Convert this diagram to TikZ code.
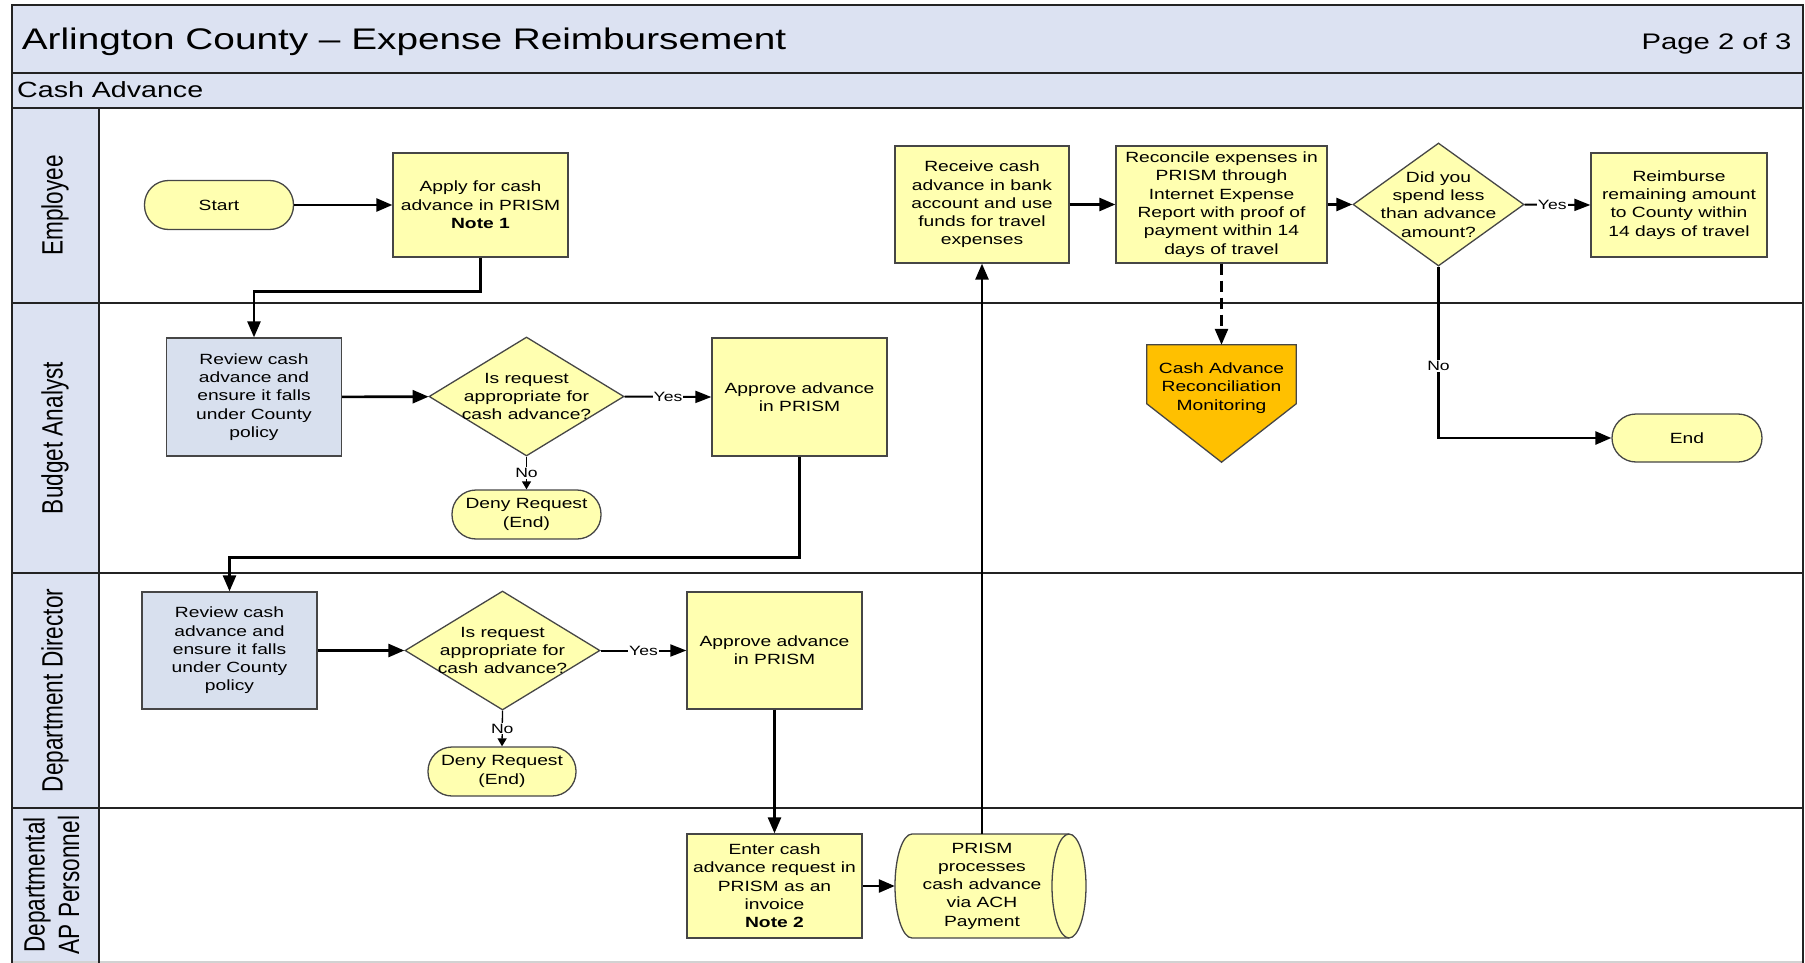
\documentclass[tikz,border=0pt]{standalone}
\usepackage{fontspec}
\setmainfont{Liberation Sans}[FakeStretch=1.3]
\newfontfamily\lanefont{Liberation Sans}
\usetikzlibrary{arrows.meta,shapes.geometric,calc}
\definecolor{hdr}{RGB}{220,226,242}
\definecolor{yel}{RGB}{255,255,176}
\definecolor{blu}{RGB}{216,224,238}
\definecolor{org}{RGB}{255,192,0}
\definecolor{frm}{RGB}{35,35,35}
\definecolor{bdr}{RGB}{70,70,70}
\newcommand{\bodyfs}{\fontsize{14.8pt}{18.3pt}\selectfont}
\begin{document}
\begin{tikzpicture}[x=1pt,y=-1pt,
  frame/.style={draw=frm, line width=2.2pt},
  box/.style={draw=bdr, line width=1.3pt, fill=yel, inner sep=0pt, align=center, font=\bodyfs},
  bbox/.style={box, fill=blu},
  stad/.style={draw=bdr, line width=1.3pt, fill=yel, rounded corners=24pt, inner sep=0pt, align=center, font=\bodyfs, minimum width=149pt, minimum height=49pt},
  dia/.style={diamond, draw=bdr, line width=1.3pt, fill=yel, inner sep=0pt},
  txt/.style={inner sep=0pt, align=center, font=\bodyfs},
  lanel/.style={rotate=90, inner sep=0pt, align=center, font=\lanefont\fontsize{22.6pt}{26.5pt}\selectfont},
  arr/.style={-{Triangle[length=16pt,width=13pt]}, line width=2.6pt},
  yarr/.style={-{Triangle[length=16pt,width=12pt]}, line width=2pt},
  sarr/.style={-{Triangle[length=8pt,width=9pt]}, line width=1.3pt},
  lbl/.style={fill=white, inner sep=1pt, font=\fontsize{13.5pt}{15pt}\selectfont}
]
\useasboundingbox (0,0) rectangle (1805,963);
% frame
\fill[hdr] (11.7,4.7) rectangle (1803,108);
\fill[hdr] (11.7,108) rectangle (99,963);
\draw[gray!35, line width=1.5pt] (11.7,962) -- (1803,962);
\draw[frame] (11.7,963) -- (11.7,4.7) -- (1803,4.7) -- (1803,963);
\draw[frame] (11.7,72.7) -- (1803,72.7);
\draw[frame] (11.7,108) -- (1803,108);
\draw[frame] (11.7,303) -- (1803,303);
\draw[frame] (11.7,573) -- (1803,573);
\draw[frame] (11.7,808) -- (1803,808);
\draw[frame] (99,108) -- (99,963);
% header texts
\node[anchor=base west, inner sep=0pt, font=\fontsize{29.8pt}{35pt}\selectfont] (title) at (21.7,49.5) {Arlington County -- Expense Reimbursement};
\node[anchor=base east, inner sep=0pt, font=\fontsize{22.5pt}{27pt}\selectfont] (page) at (1791.5,49.5) {Page 2 of 3};
\node[anchor=base west, inner sep=0pt, font=\fontsize{22pt}{26pt}\selectfont] (sub) at (17,97.3) {Cash Advance};
% lane labels
\node[lanel] (lemp) at (55,205.5) {\scalebox{1}[1.3]{Employee}};
\node[lanel] (lba) at (55,438) {\scalebox{1}[1.3]{Budget Analyst}};
\node[lanel] (ldd) at (55,690.5) {\scalebox{1}[1.3]{Department Director}};
\node[lanel] (lap) at (55,885) {\scalebox{1}[1.3]{\begin{tabular}{@{}c@{}}Departmental\\AP Personnel\end{tabular}}};
% Employee lane
\node[stad] (start) at (219,205) {Start};
\node[box, minimum width=175pt, minimum height=104pt] (apply) at (480.5,205) {Apply for cash\\advance in PRISM\\\textbf{Note 1}};
\node[box, minimum width=174pt, minimum height=117pt] (receive) at (982,204.5) {Receive cash\\advance in bank\\account and use\\funds for travel\\expenses};
\node[box, minimum width=211pt, minimum height=117pt] (recon) at (1221.5,204.5) {Reconcile expenses in\\PRISM through\\Internet Expense\\Report with proof of\\payment within 14\\days of travel};
\node[dia, minimum width=171pt, minimum height=123pt] (d2) at (1438.5,204.5) {};
\node[txt] (d2t) at (1438.5,204.5) {Did you\\spend less\\than advance\\amount?};
\node[box, minimum width=176pt, minimum height=104pt] (reimb) at (1679,205) {Reimburse\\remaining amount\\to County within\\14 days of travel};
% Budget Analyst lane
\node[bbox, minimum width=175pt, minimum height=118pt] (rev1) at (254,397) {Review cash\\advance and\\ensure it falls\\under County\\policy};
\node[dia, minimum width=195pt, minimum height=119pt] (d1) at (526.5,396.5) {};
\node[txt] (d1t) at (526.5,396.5) {Is request\\appropriate for\\cash advance?};
\node[box, minimum width=175pt, minimum height=118pt] (app1) at (799.5,397) {Approve advance\\in PRISM};
\node[stad] (deny1) at (526.5,514.5) {Deny Request\\(End)};
\node[inner sep=0pt, minimum width=149pt, minimum height=117pt] (mon) at (1221.5,403.5) {};
\draw[draw=bdr, line width=1.3pt, fill=org] (mon.north west) -- (mon.north east) -- ($(mon.north east)+(0,59)$) -- (mon.south) -- ($(mon.north west)+(0,59)$) -- cycle;
\node[txt] (mont) at (1221.5,388) {Cash Advance\\Reconciliation\\Monitoring};
\node[stad, minimum width=150pt, minimum height=48pt] (endn) at (1687,438) {End};
% Department Director lane
\node[bbox, minimum width=175pt, minimum height=117pt] (rev2) at (229.5,650.5) {Review cash\\advance and\\ensure it falls\\under County\\policy};
\node[dia, minimum width=195pt, minimum height=119pt] (d3) at (502.5,650.5) {};
\node[txt] (d3t) at (502.5,650.5) {Is request\\appropriate for\\cash advance?};
\node[box, minimum width=175pt, minimum height=117pt] (app2) at (774.5,650.5) {Approve advance\\in PRISM};
\node[stad, minimum width=148pt] (deny2) at (502,771.5) {Deny Request\\(End)};
% AP lane
\node[box, minimum width=175pt, minimum height=104pt] (enter) at (774.5,886) {Enter cash\\advance request in\\PRISM as an\\invoice\\\textbf{Note 2}};
\draw[fill=yel, draw=bdr, line width=1.3pt] (912,834) -- (1069,834) .. controls (1078.4,834) and (1086,857.3) .. (1086,886) .. controls (1086,914.7) and (1078.4,938) .. (1069,938) -- (912,938) .. controls (902.6,938) and (895,914.7) .. (895,886) .. controls (895,857.3) and (902.6,834) .. (912,834) -- cycle;
\draw[draw=bdr, line width=1.3pt] (1069,834) .. controls (1059.6,834) and (1052,857.3) .. (1052,886) .. controls (1052,914.7) and (1059.6,938) .. (1069,938);
\node[txt, minimum width=174pt, minimum height=104pt] (prism) at (982,886) {PRISM\\processes\\cash advance\\via ACH\\Payment};
% connectors
\draw[arr] (start) -- (apply);
\draw[arr] (apply.south) -- ++(0,34) -| (rev1.north);
\draw[arr] (rev1) -- (d1);
\draw[yarr] (d1.east) -- node[lbl] (y1) {Yes} (app1.west);
\draw[sarr] (d1.south) -- node[lbl] (n1) {No} (deny1.north);
\draw[arr] (app1.south) -- ++(0,101) -| (rev2.north);
\draw[arr] (rev2) -- (d3);
\draw[yarr] (d3.east) -- node[lbl] (y3) {Yes} (app2.west);
\draw[sarr] (d3.south) -- node[lbl] (n3) {No} (deny2.north);
\draw[arr] (app2) -- (enter);
\draw[arr] (enter.east) -- (prism.west);
\draw[arr] (prism.north) -- (receive.south);
\draw[arr] (receive) -- (recon);
\draw[arr] (recon) -- (d2);
\draw[yarr] (d2.east) -- node[lbl, pos=0.42] (y2) {Yes} (reimb.west);
\draw[arr] (d2.south) |- node[lbl, pos=0.29] (n2) {No} (endn.west);
\draw[arr, dash pattern=on 11pt off 6pt] (recon.south) -- (mon.north);
\end{tikzpicture}
\end{document}
